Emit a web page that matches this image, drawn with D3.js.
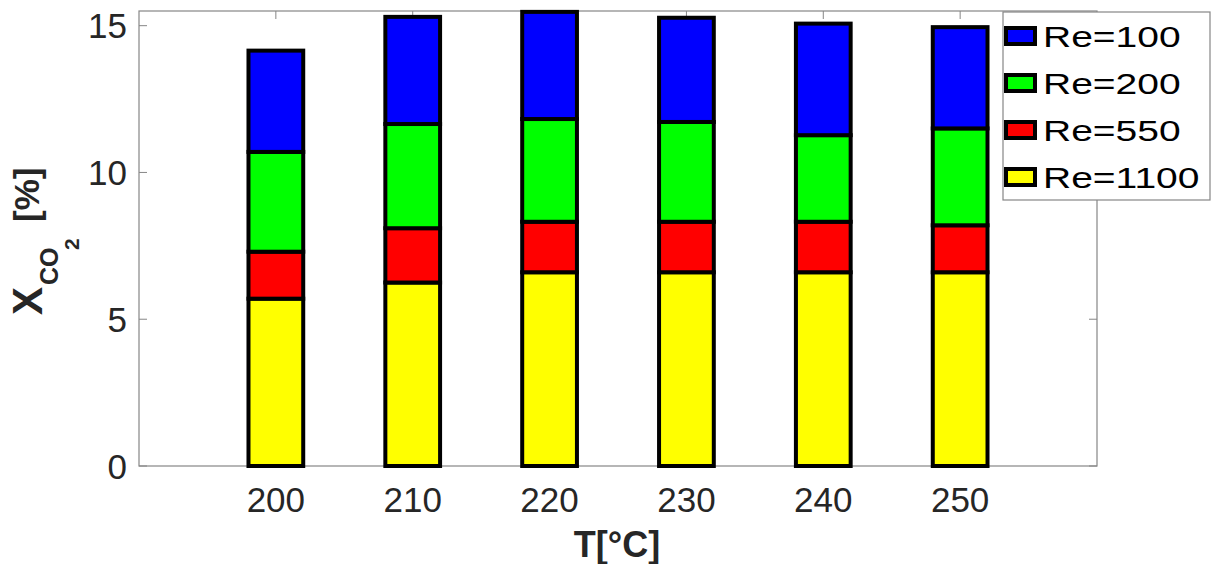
<!DOCTYPE html>
<html><head><meta charset="utf-8">
<script src="https://cdn.jsdelivr.net/npm/d3@7"></script>
<style>body{margin:0;background:#fff}svg{display:block}</style>
</head><body><svg id="c" width="1213" height="564"></svg>
<script>
const temps = [200, 210, 220, 230, 240, 250];
const seriesNames = ["Re=1100", "Re=550", "Re=200", "Re=100"];
const re1100 = [5.70, 6.25, 6.60, 6.60, 6.60, 6.60];
const re550  = [1.60, 1.85, 1.72, 1.72, 1.72, 1.60];
const re200  = [3.40, 3.55, 3.50, 3.40, 2.95, 3.30];
const re100  = [3.45, 3.65, 3.65, 3.55, 3.80, 3.45];
const colors = ["#ffff00", "#ff0000", "#00ff00", "#0000ff"];
const yTicks = [0, 5, 10, 15];
const xTicks = temps;

const FONT = "Liberation Sans, Arial, sans-serif";
const svg = d3.select("#c");
const L = 139, R = 1097, T = 11, B = 466;
const x = d3.scaleLinear().domain([190, 260]).range([L, R]);
const y = d3.scaleLinear().domain([0, 15.5]).range([B, T]);
const barW = 4;
const axisCol = "#868686", textCol = "#262626";

const rows = temps.map((t, i) => ({t, "Re=1100": re1100[i], "Re=550": re550[i], "Re=200": re200[i], "Re=100": re100[i]}));
const stack = d3.stack().keys(seriesNames)(rows);

// plot box
svg.append("rect").attr("x", L).attr("y", T).attr("width", R - L).attr("height", B - T)
  .attr("fill", "none").attr("stroke", axisCol).attr("stroke-width", 1.2);

// ticks
const tl = 8;
yTicks.forEach(v => {
  svg.append("line").attr("x1", L).attr("x2", L + tl).attr("y1", y(v)).attr("y2", y(v)).attr("stroke", axisCol);
  svg.append("line").attr("x1", R).attr("x2", R - tl).attr("y1", y(v)).attr("y2", y(v)).attr("stroke", axisCol);
  svg.append("text").attr("x", L - 12).attr("y", y(v)).attr("dy", "0.36em").attr("text-anchor", "end")
    .attr("font-family", FONT).attr("font-size", 35).attr("fill", textCol).text(v);
});
xTicks.forEach(v => {
  svg.append("line").attr("x1", x(v)).attr("x2", x(v)).attr("y1", B).attr("y2", B - tl).attr("stroke", axisCol);
  svg.append("line").attr("x1", x(v)).attr("x2", x(v)).attr("y1", T).attr("y2", T + tl).attr("stroke", axisCol);
  svg.append("text").attr("x", x(v)).attr("y", 512).attr("text-anchor", "middle")
    .attr("font-family", FONT).attr("font-size", 35).attr("fill", textCol).text(v);
});

// bars
const g = svg.append("g");
stack.forEach((s, k) => {
  g.selectAll(null).data(s).enter().append("rect")
    .attr("x", d => x(d.data.t - barW / 2))
    .attr("width", d => x(d.data.t + barW / 2) - x(d.data.t - barW / 2))
    .attr("y", d => y(d[1]))
    .attr("height", d => y(d[0]) - y(d[1]))
    .attr("fill", colors[k]).attr("stroke", "#000").attr("stroke-width", 4);
});

// legend
const lg = svg.append("g");
lg.append("rect").attr("x", 1003).attr("y", 12).attr("width", 207).attr("height", 188)
  .attr("fill", "#fff").attr("stroke", axisCol).attr("stroke-width", 1.2);
const legOrder = [3, 2, 1, 0];
legOrder.forEach((k, i) => {
  const cy = 36 + i * 47;
  lg.append("rect").attr("x", 1006).attr("y", cy - 8).attr("width", 29).attr("height", 16)
    .attr("fill", colors[k]).attr("stroke", "#000").attr("stroke-width", 4);
  lg.append("text").attr("transform", `translate(1043,${cy}) scale(1.3,1)`).attr("dy", "0.36em")
    .attr("font-family", FONT).attr("font-size", 30).attr("fill", "#000")
    .text(seriesNames[k]);
});

// axis labels
svg.append("text").attr("x", 617).attr("y", 557).attr("text-anchor", "middle")
  .attr("font-family", FONT).attr("font-weight", "bold")
  .attr("font-size", 36).attr("fill", textCol).text("T[°C]");

function ylab(tx, ty, size, str) {
  svg.append("text").attr("transform", `translate(${tx},${ty}) rotate(-90)`).attr("text-anchor", "start")
    .attr("font-family", FONT).attr("font-weight", "bold")
    .attr("font-size", size).attr("fill", textCol).text(str);
}
ylab(42, 315, 42, "X");
ylab(58, 285, 25, "CO");
ylab(79, 250, 21, "2");
ylab(39, 222, 35, "[%]");
</script></body></html>
